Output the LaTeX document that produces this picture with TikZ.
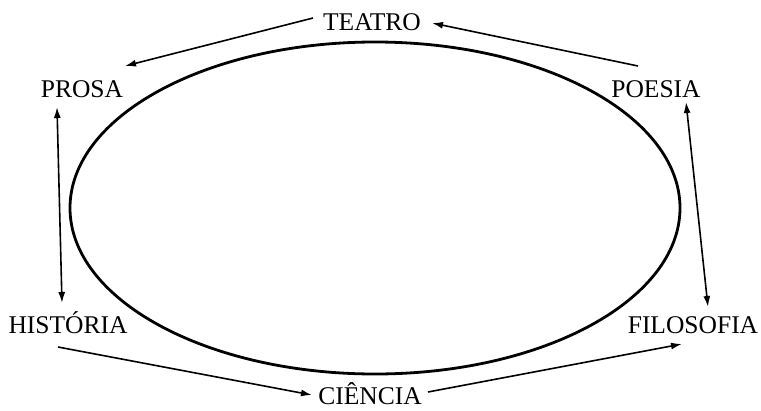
\documentclass[tikz,border=0pt]{standalone}
\usepackage{fontspec}
\setmainfont{Liberation Serif}
\usetikzlibrary{arrows.meta,calc}
\begin{document}
\begin{tikzpicture}[x=1pt,y=-1pt,
  lbl/.style={anchor=base,inner sep=0pt,font=\fontsize{25.5}{25.5}\selectfont},
  conn/.style={line width=1.6pt,-{Latex[length=11pt,width=7pt]}},
  conn2/.style={line width=1.6pt,{Latex[length=11pt,width=7pt]}-{Latex[length=11pt,width=7pt]}}]
\useasboundingbox (0,0) rectangle (761,410);
\draw[line width=2.8pt] (375,208) ellipse [x radius=305pt, y radius=166pt];
\node[lbl] (teatro) at (372,30) {TEATRO};
\node[lbl] (prosa) at (82,97) {PROSA};
\node[lbl] (poesia) at (656,97) {POESIA};
\node[lbl] (historia) at (68,333) {HISTÓRIA};
\node[lbl] (filosofia) at (693,333) {FILOSOFIA};
\node[lbl] (ciencia) at (370,404) {CIÊNCIA};
\draw[conn] ($(poesia.base)+(-18,-31)$) -- ($(teatro.base)+(60,-7)$);
\draw[conn] ($(teatro.base)+(-59,-12)$) -- ($(prosa.base)+(43,-31)$);
\draw[conn2] ($(prosa.base)+(-25,10)$) -- ($(historia.base)+(-6,-30)$);
\draw[conn2] ($(poesia.base)+(30,5)$) -- ($(filosofia.base)+(15,-26)$);
\draw[conn] ($(historia.base)+(-10,14)$) -- ($(ciencia.base)+(-58,-9)$);
\draw[conn] ($(ciencia.base)+(58,-12)$) -- ($(filosofia.base)+(-11,11)$);
\end{tikzpicture}
\end{document}
